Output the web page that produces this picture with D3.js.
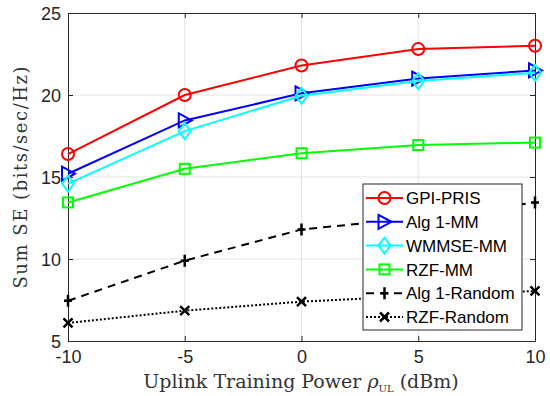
<!DOCTYPE html>
<html>
<head>
<meta charset="utf-8">
<script src="https://cdn.jsdelivr.net/npm/d3@7"></script>
<style>
body { margin: 0; background: #fff; }
svg { display: block; }
</style>
</head>
<body>
<svg width="550" height="396"></svg>
<script>
const svg = d3.select("svg");

// datos
const potencia = [-10, -5, 0, 5, 10];
const gpiPris = [16.4, 20.0, 21.8, 22.8, 23.0];
const alg1MM = [15.2, 18.45, 20.1, 21.0, 21.5];
const wmmseMM = [14.6, 17.8, 19.95, 20.85, 21.35];
const rzfMM = [13.45, 15.5, 16.45, 16.95, 17.1];
const alg1Random = [7.45, 9.9, 11.8, 12.5, 13.45];
const rzfRandom = [6.1, 6.85, 7.4, 7.75, 8.05];
const xTicks = [-10, -5, 0, 5, 10];
const yTicks = [5, 10, 15, 20, 25];

const series = [
    { name: "GPI-PRIS", values: gpiPris, color: "#ff0000", marker: "circle", dash: null },
    { name: "Alg 1-MM", values: alg1MM, color: "#0000ff", marker: "tri", dash: null },
    { name: "WMMSE-MM", values: wmmseMM, color: "#00ffff", marker: "diamond", dash: null },
    { name: "RZF-MM", values: rzfMM, color: "#00ff00", marker: "square", dash: null },
    { name: "Alg 1-Random", values: alg1Random, color: "#000000", marker: "plus", dash: "8,6" },
    { name: "RZF-Random", values: rzfRandom, color: "#000000", marker: "cross", dash: "2,2" }
];

const mIzq = 68, mDer = 535, mSup = 13, mInf = 341;
const x = d3.scaleLinear().domain([-10, 10]).range([mIzq, mDer]);
const y = d3.scaleLinear().domain([5, 25]).range([mInf, mSup]);

// rejilla
svg.append("g").selectAll("line.gx")
    .data(xTicks.slice(1, -1))
    .enter().append("line")
    .attr("x1", d => x(d)).attr("x2", d => x(d))
    .attr("y1", mSup).attr("y2", mInf)
    .style("stroke", "#e3e3e3").style("stroke-width", 1);
svg.append("g").selectAll("line.gy")
    .data(yTicks.slice(1, -1))
    .enter().append("line")
    .attr("x1", mIzq).attr("x2", mDer)
    .attr("y1", d => y(d)).attr("y2", d => y(d))
    .style("stroke", "#e3e3e3").style("stroke-width", 1);

// ejes con marcas hacia dentro
const fmt = d => String(d);
const ejeX = svg.append("g").attr("transform", `translate(0,${mInf})`)
    .call(d3.axisBottom(x).tickValues(xTicks).tickFormat(fmt).tickSizeInner(-5).tickSizeOuter(0).tickPadding(8));
const ejeXTop = svg.append("g").attr("transform", `translate(0,${mSup})`)
    .call(d3.axisTop(x).tickValues(xTicks).tickSizeInner(-5).tickSizeOuter(0).tickFormat(""));
const ejeY = svg.append("g").attr("transform", `translate(${mIzq},0)`)
    .call(d3.axisLeft(y).tickValues(yTicks).tickFormat(fmt).tickSizeInner(-5).tickSizeOuter(0).tickPadding(7));
const ejeYRight = svg.append("g").attr("transform", `translate(${mDer},0)`)
    .call(d3.axisRight(y).tickValues(yTicks).tickSizeInner(-5).tickSizeOuter(0).tickFormat(""));

[ejeX, ejeXTop, ejeY, ejeYRight].forEach(g => {
    g.selectAll("path.domain").style("stroke", "#262626").style("stroke-width", 1);
    g.selectAll(".tick line").style("stroke", "#262626");
    g.selectAll("text").style("font-family", "Liberation Sans, Arial, sans-serif")
        .style("font-size", "18px").style("fill", "#262626");
});
ejeY.selectAll("text").attr("dy", "0.35em");
ejeX.selectAll("text").attr("dy", "0.75em");

// simbolos
function dibujarMarcador(g, tipo, cx, cy, color) {
    const s = { "stroke": color, "stroke-width": 2, "fill": "none" };
    let el;
    if (tipo === "circle") {
        el = g.append("circle").attr("cx", cx).attr("cy", cy).attr("r", 6);
    } else if (tipo === "tri") {
        el = g.append("path").attr("d", `M${cx - 6},${cy - 7}L${cx + 7},${cy}L${cx - 6},${cy + 7}Z`);
    } else if (tipo === "diamond") {
        el = g.append("path").attr("d", `M${cx},${cy - 8}L${cx + 6},${cy}L${cx},${cy + 8}L${cx - 6},${cy}Z`);
    } else if (tipo === "square") {
        el = g.append("rect").attr("x", cx - 5).attr("y", cy - 5).attr("width", 10).attr("height", 10);
    } else if (tipo === "plus") {
        el = g.append("path").attr("d", `M${cx - 4},${cy}L${cx + 4},${cy}M${cx},${cy - 6}L${cx},${cy + 6}`);
        s["stroke-width"] = 2.5;
    } else {
        el = g.append("path").attr("d", `M${cx - 4.5},${cy - 4.5}L${cx + 4.5},${cy + 4.5}M${cx - 4.5},${cy + 4.5}L${cx + 4.5},${cy - 4.5}`);
        s["stroke-width"] = 2.5;
    }
    Object.entries(s).forEach(([k, v]) => el.style(k, v));
}

const linea = d3.line().x((d, i) => x(potencia[i])).y(d => y(d));

series.forEach(sr => {
    const g = svg.append("g");
    g.append("path").datum(sr.values)
        .attr("d", linea)
        .style("fill", "none").style("stroke", sr.color).style("stroke-width", 2)
        .style("stroke-dasharray", sr.dash);
    sr.values.forEach((v, i) => dibujarMarcador(g, sr.marker, x(potencia[i]), y(v), sr.color));
});

// leyenda
const leyenda = svg.append("g");
leyenda.append("rect").attr("x", 363).attr("y", 184).attr("width", 159).attr("height", 146)
    .style("fill", "#fff").style("stroke", "#262626").style("stroke-width", 1);
series.forEach((sr, i) => {
    const ly = 198 + i * 23.8;
    leyenda.append("line").attr("x1", 366).attr("x2", 403).attr("y1", ly).attr("y2", ly)
        .style("stroke", sr.color).style("stroke-width", 2).style("stroke-dasharray", sr.dash);
    dibujarMarcador(leyenda, sr.marker, 384.5, ly, sr.color);
    leyenda.append("text").attr("x", 406).attr("y", ly).attr("dy", "0.36em")
        .style("font-family", "Liberation Sans, Arial, sans-serif").style("font-size", "17px")
        .text(sr.name);
});

// titulos de ejes
svg.append("text").attr("transform", "translate(27,177.5) rotate(-90)")
    .attr("text-anchor", "middle")
    .style("font-family", "DejaVu Serif, serif").style("font-size", "18px").style("fill", "#333")
    .attr("textLength", 222).attr("lengthAdjust", "spacing")
    .text("Sum SE (bits/sec/Hz)");
const tx = svg.append("text").attr("x", 301).attr("y", 388).attr("text-anchor", "middle")
    .style("font-family", "DejaVu Serif, serif").style("font-size", "19px").style("fill", "#333");
tx.append("tspan").text("Uplink Training Power ");
tx.append("tspan").style("font-style", "italic").text("ρ");
tx.append("tspan").attr("dy", 4).style("font-size", "10px").text("UL");
tx.append("tspan").attr("dy", -4).text(" (dBm)");
</script>
</body>
</html>
